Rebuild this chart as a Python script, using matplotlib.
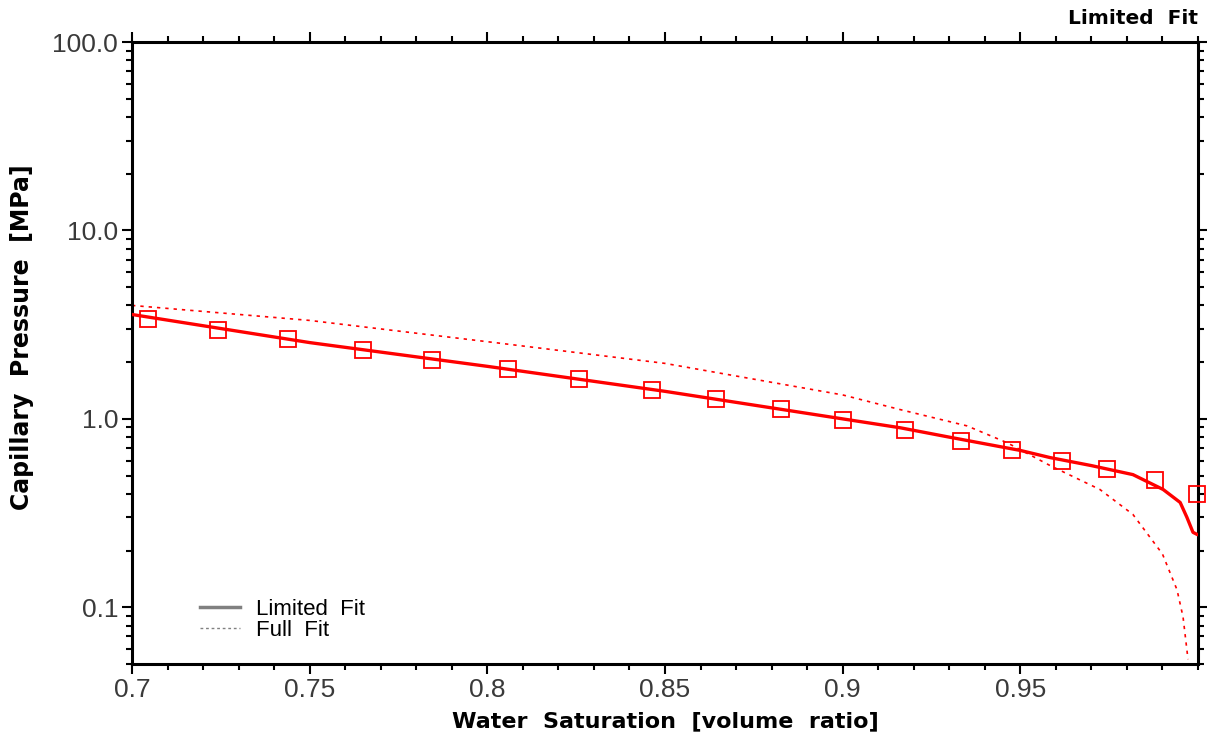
import matplotlib
matplotlib.use('Agg')
import matplotlib.pyplot as plt
from matplotlib.ticker import FixedLocator, LogLocator, FuncFormatter, MultipleLocator

plt.rcParams['font.family'] = ['Liberation Sans', 'DejaVu Sans']

# measured points
sw_meas = [0.7045, 0.7242, 0.7439, 0.765, 0.7844, 0.8058, 0.8258, 0.8464, 0.8644,
           0.8827, 0.9001, 0.9176, 0.9333, 0.9477, 0.9617, 0.9744, 0.9879, 0.9997]
pc_meas = [3.37, 2.95, 2.64, 2.31, 2.05, 1.84, 1.63, 1.42, 1.28,
           1.13, 0.99, 0.875, 0.765, 0.686, 0.60, 0.545, 0.476, 0.397]

# limited fit curve
sw_lim = [0.70, 0.75, 0.80, 0.85, 0.90, 0.9162, 0.93, 0.95, 0.9584, 0.97, 0.9817,
          0.9902, 0.995, 0.9969, 0.9986, 0.9997]
pc_lim = [3.58, 2.54, 1.90, 1.40, 1.00, 0.897, 0.80, 0.68, 0.623, 0.565, 0.506,
          0.422, 0.36, 0.30, 0.25, 0.244]

# full fit curve
sw_full = [0.70, 0.75, 0.8036, 0.85, 0.90, 0.9162, 0.935, 0.9463, 0.9584, 0.9724,
           0.9817, 0.990, 0.9941, 0.9958, 0.9972]
pc_full = [4.0, 3.33, 2.52, 1.97, 1.34, 1.12, 0.918, 0.747, 0.565, 0.422,
           0.311, 0.192, 0.124, 0.089, 0.053]

x_ticks = [0.7, 0.75, 0.8, 0.85, 0.9, 0.95]
y_ticks = [0.1, 1.0, 10.0, 100.0]

fig = plt.figure(figsize=(12.07, 7.45), dpi=100)
ax = fig.add_axes([0.1094, 0.1087, 0.8831, 0.8349])

ax.plot(sw_lim, pc_lim, color='red', lw=2.4, zorder=3)
ax.plot(sw_full, pc_full, color='red', lw=1.2, linestyle=(0, (2, 3)), zorder=2)
ax.plot(sw_meas, pc_meas, linestyle='none', marker='s', markersize=12,
        markerfacecolor='none', markeredgecolor='red', markeredgewidth=1.3,
        clip_on=False, zorder=4)

ax.set_yscale('log')
ax.set_xlim(0.7, 1.0)
ax.set_ylim(0.05, 100)

ax.xaxis.set_major_locator(FixedLocator(x_ticks))
ax.xaxis.set_minor_locator(MultipleLocator(0.01))
ax.xaxis.set_major_formatter(FuncFormatter(lambda v, p: '%g' % v))
ax.yaxis.set_major_locator(FixedLocator(y_ticks))
ax.yaxis.set_minor_locator(LogLocator(base=10, subs=range(2, 10)))
ax.yaxis.set_major_formatter(FuncFormatter(lambda v, p: '%.1f' % v))

for s in ax.spines.values():
    s.set_linewidth(2.2)
ax.tick_params(which='both', direction='out', top=True, right=True,
               width=1.5, color='black')
ax.tick_params(which='major', length=7, labelsize=19, labelcolor='#3a3a3a', pad=3)
ax.tick_params(which='minor', length=4)

lab_font = dict(family='DejaVu Sans', fontweight='bold')
ax.set_xlabel('Water  Saturation  [volume  ratio]', labelpad=7, fontsize=16, **lab_font)
ax.set_ylabel('Capillary  Pressure  [MPa]', fontsize=17, **lab_font)
ax.yaxis.set_label_coords(-0.092, 0.525)
ax.set_title('Limited  Fit', loc='right', pad=13, family='DejaVu Sans',
             fontsize=14.5, fontweight='bold')

h1, = ax.plot([], [], color='gray', lw=2.5)
h2, = ax.plot([], [], color='gray', lw=1, linestyle=(0, (2, 2)))
ax.legend([h1, h2], ['Limited  Fit', 'Full  Fit'], loc='lower left',
          bbox_to_anchor=(0.064, 0.037), frameon=False, fontsize=16,
          borderpad=0, borderaxespad=0,
          handlelength=1.8, labelspacing=0.0, handletextpad=0.7)

fig.savefig('out.png', dpi=100)
